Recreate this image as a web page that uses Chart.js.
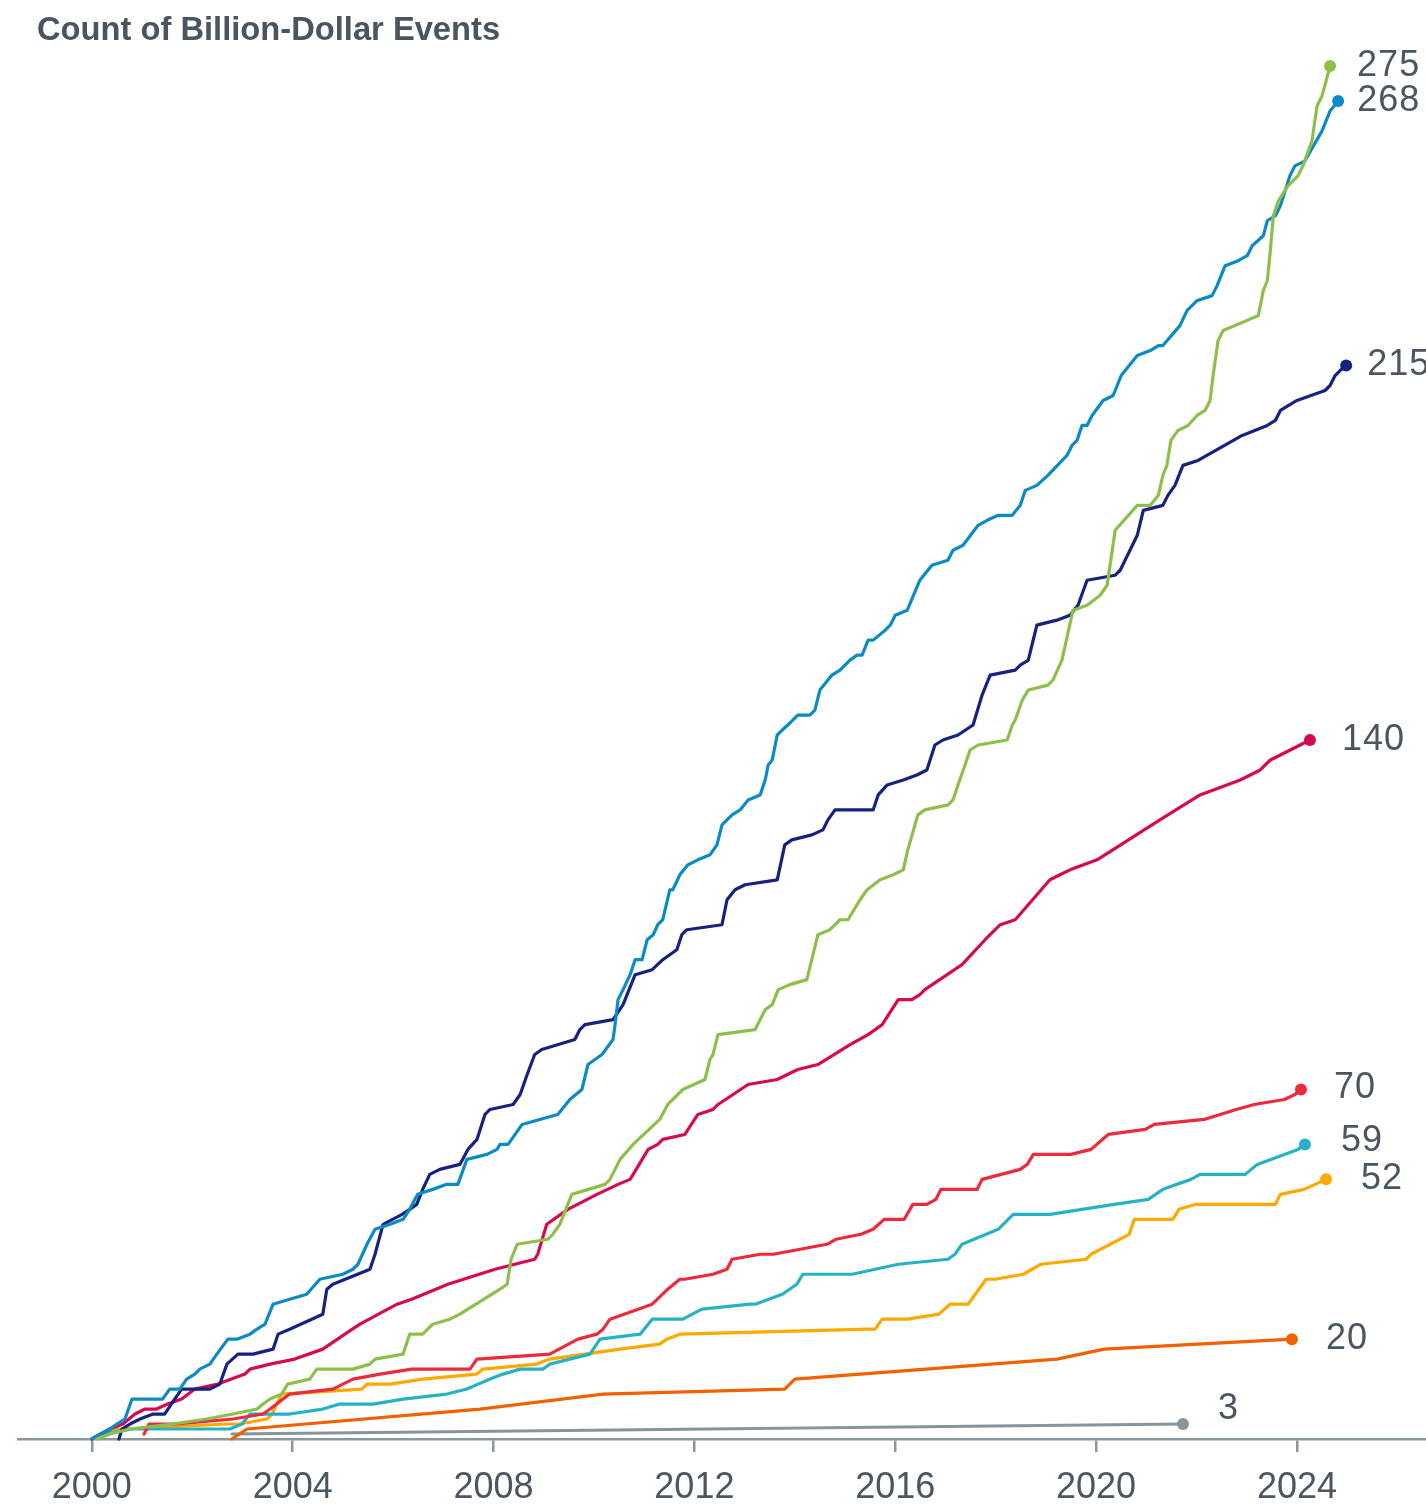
<!DOCTYPE html>
<html><head><meta charset="utf-8">
<script src="https://cdn.jsdelivr.net/npm/chart.js@4.4.1/dist/chart.umd.min.js"></script>
<style>html,body{margin:0;padding:0;background:#fff;}#wrap{width:1426px;height:1507px;position:relative;}</style>
</head><body><div id="wrap"><canvas id="c" width="1426" height="1507"></canvas></div>
<script>
const chartTitle = 'Count of Billion-Dollar Events';
const tickYears = [2000, 2004, 2008, 2012, 2016, 2020, 2024];
const tickLabels = ['2000', '2004', '2008', '2012', '2016', '2020', '2024'];

// [year, cumulative count]
const seriesGreen = [[2000.10,0],[2000.36,1],[2000.76,2],[2001.61,3],[2002.29,4],[2002.81,5],[2003.29,6],[2003.41,7],[2003.55,8],[2003.78,9],[2003.90,11],[2004.34,12],[2004.48,14],[2005.20,14],[2005.54,15],[2005.64,16],[2006.20,17],[2006.33,21],[2006.59,21],[2006.79,23],[2007.13,24],[2007.33,25],[2008.13,30],[2008.27,31],[2008.35,36],[2008.47,39],[2009.08,40],[2009.18,41],[2009.32,43],[2009.56,49],[2010.22,51],[2010.32,52],[2010.52,56],[2010.78,59],[2011.31,64],[2011.47,67],[2011.77,70],[2012.21,72],[2012.31,76],[2012.37,77],[2012.47,81],[2013.21,82],[2013.41,86],[2013.55,87],[2013.67,90],[2013.90,91],[2014.24,92],[2014.46,101],[2014.70,102],[2014.90,104],[2015.06,104],[2015.30,108],[2015.44,110],[2015.70,112],[2015.96,113],[2016.16,114],[2016.25,118],[2016.45,125],[2016.59,126],[2017.05,127],[2017.15,128],[2017.25,131],[2017.39,135],[2017.49,138],[2017.65,139],[2018.23,140],[2018.33,143],[2018.39,144],[2018.53,148],[2018.65,150],[2019.04,151],[2019.14,152],[2019.32,156],[2019.54,166],[2019.82,167],[2020.08,169],[2020.22,171],[2020.38,182],[2020.82,187],[2021.08,187],[2021.24,189],[2021.33,193],[2021.41,195],[2021.49,200],[2021.63,202],[2021.83,203],[2022.01,205],[2022.17,206],[2022.27,208],[2022.33,213],[2022.43,220],[2022.53,222],[2023.23,225],[2023.33,230],[2023.41,232],[2023.47,238],[2023.53,245],[2023.63,248],[2023.82,251],[2024.02,253],[2024.12,255],[2024.30,260],[2024.40,267],[2024.50,269],[2024.66,275]];

const seriesBlue = [[2000.00,0],[2000.36,2],[2000.50,3],[2000.66,4],[2000.80,8],[2001.31,8],[2001.41,8],[2001.55,10],[2001.75,10],[2001.89,12],[2002.05,13],[2002.15,14],[2002.35,15],[2002.49,17],[2002.71,20],[2002.89,20],[2003.15,21],[2003.29,22],[2003.45,23],[2003.61,27],[2003.94,28],[2004.28,29],[2004.54,32],[2005.00,33],[2005.20,34],[2005.30,35],[2005.48,39],[2005.64,42],[2005.94,43],[2006.20,44],[2006.33,46],[2006.49,49],[2006.79,50],[2007.07,51],[2007.29,51],[2007.47,56],[2007.87,57],[2008.07,58],[2008.13,59],[2008.29,59],[2008.57,63],[2008.92,64],[2009.28,65],[2009.52,68],[2009.76,70],[2009.88,75],[2010.16,77],[2010.38,80],[2010.42,83],[2010.48,88],[2010.58,90],[2010.72,93],[2010.82,96],[2010.96,96],[2011.06,100],[2011.18,101],[2011.27,103],[2011.37,104],[2011.51,110],[2011.57,110],[2011.71,113],[2011.87,115],[2012.07,116],[2012.31,117],[2012.45,119],[2012.55,123],[2012.75,125],[2012.91,126],[2013.07,128],[2013.31,129],[2013.41,132],[2013.47,135],[2013.55,136],[2013.65,141],[2013.75,142],[2013.86,143],[2014.06,145],[2014.30,145],[2014.40,146],[2014.50,150],[2014.74,153],[2014.90,154],[2015.10,156],[2015.24,157],[2015.34,157],[2015.46,160],[2015.56,160],[2015.80,162],[2015.90,163],[2016.00,165],[2016.24,166],[2016.49,172],[2016.73,175],[2017.05,176],[2017.15,178],[2017.35,179],[2017.65,183],[2017.83,184],[2018.05,185],[2018.33,185],[2018.49,187],[2018.59,190],[2018.82,191],[2019.04,193],[2019.42,197],[2019.52,199],[2019.62,200],[2019.72,203],[2019.82,203],[2019.92,205],[2020.14,208],[2020.34,209],[2020.50,213],[2020.82,217],[2021.08,218],[2021.24,219],[2021.33,219],[2021.67,223],[2021.81,226],[2022.01,228],[2022.31,229],[2022.41,231],[2022.57,235],[2022.83,236],[2023.01,237],[2023.11,239],[2023.33,241],[2023.41,244],[2023.57,245],[2023.67,247],[2023.86,253],[2023.96,255],[2024.16,256],[2024.50,262],[2024.66,266],[2024.82,268]];

const seriesNavy = [[2000.54,0],[2000.60,2],[2000.76,3],[2000.96,4],[2001.22,5],[2001.45,5],[2001.65,8],[2001.79,10],[2002.01,10],[2002.35,10],[2002.55,11],[2002.69,15],[2002.91,17],[2003.21,17],[2003.61,18],[2003.71,21],[2003.94,22],[2004.60,25],[2004.68,30],[2004.80,31],[2005.54,34],[2005.64,37],[2005.80,43],[2006.18,45],[2006.33,46],[2006.47,47],[2006.59,50],[2006.73,53],[2006.93,54],[2007.33,55],[2007.49,58],[2007.67,60],[2007.83,65],[2007.93,66],[2008.39,67],[2008.53,69],[2008.67,73],[2008.82,77],[2008.96,78],[2009.62,80],[2009.72,82],[2009.82,83],[2010.38,84],[2010.58,87],[2010.82,93],[2011.16,94],[2011.37,96],[2011.65,98],[2011.75,101],[2011.85,102],[2012.55,103],[2012.65,108],[2012.81,110],[2013.01,111],[2013.65,112],[2013.80,119],[2013.94,120],[2014.34,121],[2014.56,122],[2014.66,124],[2014.80,126],[2015.56,126],[2015.66,129],[2015.84,131],[2016.16,132],[2016.43,133],[2016.63,134],[2016.79,139],[2016.95,140],[2017.25,141],[2017.55,143],[2017.73,149],[2017.89,153],[2018.39,154],[2018.49,155],[2018.65,156],[2018.82,163],[2019.22,164],[2019.48,165],[2019.64,167],[2019.82,172],[2020.38,173],[2020.48,174],[2020.82,181],[2020.94,186],[2021.33,187],[2021.43,189],[2021.57,191],[2021.73,195],[2022.03,196],[2022.91,201],[2023.41,203],[2023.57,204],[2023.67,206],[2024.00,208],[2024.56,210],[2024.66,211],[2024.76,213],[2024.86,214],[2024.98,215]];

const seriesCrimson = [[2000.00,0],[2000.36,2],[2000.62,3],[2000.86,5],[2001.06,6],[2001.29,6],[2001.51,7],[2001.79,8],[2002.05,10],[2002.51,11],[2003.05,13],[2003.15,14],[2003.55,15],[2004.04,16],[2004.60,18],[2005.04,21],[2005.34,23],[2006.08,27],[2006.37,28],[2007.09,31],[2008.03,34],[2008.82,36],[2008.88,37],[2009.06,43],[2009.48,46],[2010.06,49],[2010.48,51],[2010.72,52],[2011.08,58],[2011.27,59],[2011.37,60],[2011.81,61],[2012.07,65],[2012.37,66],[2012.47,67],[2013.07,71],[2013.65,72],[2014.06,74],[2014.46,75],[2015.10,79],[2015.46,81],[2015.74,83],[2016.06,88],[2016.33,88],[2016.49,89],[2016.59,90],[2017.33,95],[2017.79,100],[2018.09,103],[2018.39,104],[2019.08,112],[2019.28,113],[2019.48,114],[2020.02,116],[2021.27,124],[2022.07,129],[2022.87,132],[2023.27,134],[2023.47,136],[2023.67,137],[2024.26,140]];

const seriesRed = [[2001.04,1],[2001.14,3],[2001.69,3],[2002.81,4],[2003.41,5],[2003.55,6],[2003.94,9],[2004.80,10],[2005.20,12],[2005.74,13],[2006.37,14],[2007.53,14],[2007.67,16],[2009.12,17],[2009.68,20],[2010.06,21],[2010.18,22],[2010.32,24],[2011.16,27],[2011.47,30],[2011.71,32],[2011.81,32],[2012.37,33],[2012.65,34],[2012.75,36],[2013.31,37],[2013.57,37],[2014.64,39],[2014.82,40],[2015.32,41],[2015.56,42],[2015.78,44],[2016.18,44],[2016.35,47],[2016.63,47],[2016.81,48],[2016.91,50],[2017.63,50],[2017.73,52],[2018.49,54],[2018.63,55],[2018.75,57],[2019.50,57],[2019.90,58],[2020.24,61],[2020.98,62],[2021.16,63],[2022.15,64],[2022.79,66],[2023.15,67],[2023.75,68],[2023.96,69],[2024.08,70]];

const seriesTeal = [[2000.00,0],[2000.16,1],[2000.82,2],[2002.75,2],[2002.99,3],[2003.15,5],[2003.94,5],[2004.60,6],[2004.94,7],[2005.60,7],[2006.20,8],[2007.07,9],[2007.47,10],[2007.93,12],[2008.19,13],[2008.53,14],[2008.98,14],[2009.12,15],[2009.92,17],[2010.12,20],[2010.92,21],[2011.16,24],[2011.77,24],[2012.15,26],[2013.11,27],[2013.21,27],[2013.75,29],[2014.04,31],[2014.16,33],[2015.14,33],[2016.06,35],[2017.05,36],[2017.19,37],[2017.33,39],[2018.05,42],[2018.35,45],[2019.08,45],[2020.36,47],[2021.04,48],[2021.33,50],[2021.89,52],[2022.07,53],[2022.97,53],[2023.21,55],[2024.02,58],[2024.16,59]];

const seriesYellow = [[2000.00,0],[2000.36,2],[2000.62,2],[2002.71,3],[2002.95,3],[2003.49,4],[2003.59,5],[2003.78,9],[2005.38,10],[2005.48,11],[2005.94,11],[2006.59,12],[2007.67,13],[2007.79,14],[2008.86,15],[2009.12,16],[2010.52,18],[2011.31,19],[2011.45,20],[2011.71,21],[2015.46,22],[2015.60,22],[2015.74,24],[2016.24,24],[2016.87,25],[2017.09,27],[2017.45,27],[2017.81,32],[2017.99,32],[2018.55,33],[2018.90,35],[2019.80,36],[2019.90,37],[2020.66,41],[2020.76,44],[2021.53,44],[2021.65,46],[2021.99,47],[2023.57,47],[2023.67,49],[2024.14,50],[2024.58,52]];

const seriesOrange = [[2002.79,0],[2003.09,2],[2007.73,6],[2010.18,9],[2013.80,10],[2014.00,12],[2019.22,16],[2020.16,18],[2023.90,20]];

const seriesGray = [[2002.79,1],[2012.30,2],[2021.73,3]];

const allSeries = [seriesGreen, seriesBlue, seriesNavy, seriesCrimson, seriesRed, seriesTeal, seriesYellow, seriesOrange, seriesGray];
const seriesColors = ['#8cc04a', '#0a8bc6', '#16227f', '#d60a52', '#ec2a3c', '#27b1c6', '#fca900', '#f26100', '#84959c'];
// end-label placement relative to the end dot [dx, dy] in px
const labelOffsets = [[27,0],[19,0],[21,0],[32,0],[33,-1],[36,-3],[35,0],[34,0],[35,-15]];

const FONT = '"Liberation Sans", Arial, Helvetica, sans-serif';
const TEXT = '#4b5661';
const AXIS = '#8a989e';

const annotate = {
  id: 'annotate',
  afterDraw(chart) {
    const ctx = chart.ctx;
    ctx.save();
    ctx.fillStyle = '#4a5561';
    ctx.textAlign = 'left';
    ctx.textBaseline = 'alphabetic';
    ctx.font = 'bold 32.7px ' + FONT;
    ctx.fillText(chartTitle, 37, 40);
    ctx.fillStyle = TEXT;
    ctx.font = '36px ' + FONT;
    try { ctx.letterSpacing = '1px'; } catch (e) {}
    ctx.textBaseline = 'middle';
    chart.data.datasets.forEach((ds, i) => {
      const meta = chart.getDatasetMeta(i);
      const pt = meta.data[meta.data.length - 1];
      const last = allSeries[i][allSeries[i].length - 1][1];
      ctx.fillText(String(last), pt.x + labelOffsets[i][0], pt.y + labelOffsets[i][1]);
    });
    ctx.restore();
  }
};

const datasets = allSeries.map((s, i) => ({
  data: s.map(p => ({x: p[0], y: p[1]})),
  borderColor: seriesColors[i],
  backgroundColor: seriesColors[i],
  pointBackgroundColor: seriesColors[i],
  borderWidth: 3.2,
  borderJoinStyle: 'round',
  borderCapStyle: 'round',
  tension: 0,
  pointRadius: ctx => ctx.dataIndex === s.length - 1 ? 6 : 0,
  pointBorderWidth: 0,
  pointHoverRadius: 0,
  fill: false,
  clip: false
}));

new Chart(document.getElementById('c'), {
  type: 'line',
  data: { datasets },
  options: {
    responsive: false,
    animation: false,
    devicePixelRatio: 1,
    layout: { autoPadding: false, padding: { top: 41, left: 18, right: 0, bottom: 0 } },
    plugins: { legend: { display: false }, tooltip: { enabled: false }, title: { display: false } },
    scales: {
      x: {
        type: 'linear',
        min: 1998.53,
        max: 2026.57,
        afterBuildTicks: s => { s.ticks = tickYears.map(v => ({ value: v })); },
        afterFit: s => { s.height = 68; s.paddingLeft = 0; s.paddingRight = 0; },
        ticks: {
          callback: v => tickLabels[tickYears.indexOf(v)],
          font: { family: FONT, size: 36 },
          color: TEXT,
          padding: 14,
          maxRotation: 0,
          autoSkip: false
        },
        grid: { display: true, drawOnChartArea: false, drawTicks: true, tickLength: 13, color: AXIS, lineWidth: 2.5 },
        border: { display: true, color: AXIS, width: 2.5 }
      },
      y: { type: 'linear', display: false, min: 0, max: 280 }
    }
  },
  plugins: [annotate]
});
</script>
</body></html>
